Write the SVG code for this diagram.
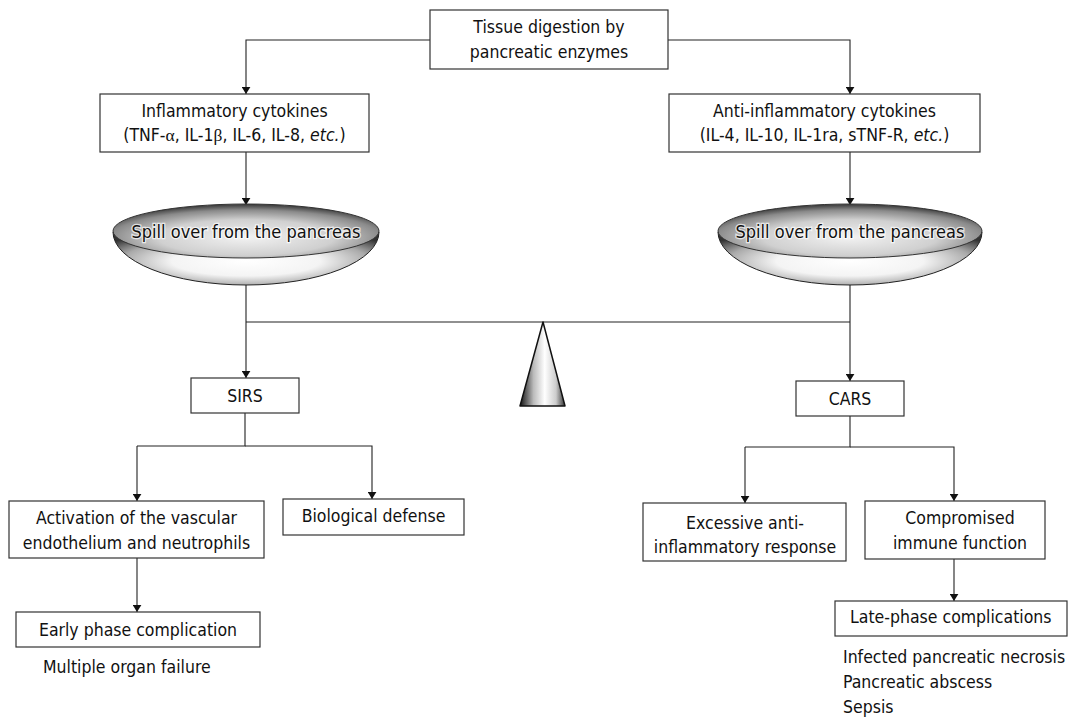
<svg xmlns="http://www.w3.org/2000/svg" width="1068" height="717" viewBox="0 0 1068 717">
<defs>
<style>
.box{fill:#fff;stroke:#333;stroke-width:1.2}
.t{font-family:"DejaVu Sans Condensed","DejaVu Sans",sans-serif;font-stretch:condensed;font-size:17.5px;fill:#111}
.m{text-anchor:middle}
.g{font-family:"Liberation Serif","DejaVu Serif",serif;font-stretch:normal}
.it{font-style:italic}
.ln{fill:none;stroke:#222;stroke-width:1.1}
.arr{marker-end:url(#ah)}
.spill{font-family:"DejaVu Sans Condensed","DejaVu Sans",sans-serif;font-stretch:condensed;font-size:18px;fill:#111;text-anchor:middle;stroke:#fff;stroke-width:2.5;paint-order:stroke;stroke-opacity:0.7}
</style>
<marker id="ah" viewBox="0 0 8 10" refX="8" refY="5" markerWidth="7" markerHeight="9" orient="auto" markerUnits="userSpaceOnUse">
<path d="M0,0 L8,5 L0,10 z" fill="#111"/>
</marker>
<radialGradient id="rim" cx="0.5" cy="0.62" r="0.6">
<stop offset="0" stop-color="#f2f2f2"/>
<stop offset="0.55" stop-color="#d0d0d0"/>
<stop offset="0.85" stop-color="#8a8a8a"/>
<stop offset="1" stop-color="#444"/>
</radialGradient>
<radialGradient id="body" cx="0.5" cy="0.55" r="0.62">
<stop offset="0" stop-color="#ffffff"/>
<stop offset="0.45" stop-color="#f4f4f4"/>
<stop offset="0.75" stop-color="#aaaaaa"/>
<stop offset="1" stop-color="#333"/>
</radialGradient>
<linearGradient id="cone" x1="0" y1="0" x2="1" y2="0">
<stop offset="0" stop-color="#111"/>
<stop offset="0.3" stop-color="#bbb"/>
<stop offset="0.55" stop-color="#fff"/>
<stop offset="0.8" stop-color="#ccc"/>
<stop offset="1" stop-color="#333"/>
</linearGradient>
</defs>
<rect width="1068" height="717" fill="#fff"/>

<g id="connectors">
<path class="ln arr" d="M430,40 H246 V94"/>
<path class="ln arr" d="M668,40 H850 V94"/>
<path class="ln arr" d="M246,152 V205"/>
<path class="ln arr" d="M850,152 V205"/>
<path class="ln" d="M246,322 H850"/>
<path class="ln arr" d="M246,285 V378"/>
<path class="ln arr" d="M850,285 V381"/>
<path class="ln" d="M245,413 V446 H137"/>
<path class="ln arr" d="M137,446 V501"/>
<path class="ln arr" d="M245,446 H372 V499"/>
<path class="ln arr" d="M137,558 V612"/>
<path class="ln" d="M850,416 V447 H745"/>
<path class="ln arr" d="M745,447 V503"/>
<path class="ln arr" d="M850,447 H954 V501"/>
<path class="ln arr" d="M954,559 V601"/>
</g>

<g id="n-tissue">
<rect class="box" x="430" y="10" width="238" height="59"/>
<text class="t m" x="549" y="33">Tissue digestion by</text>
<text class="t m" x="549" y="58">pancreatic enzymes</text>
</g>

<g id="n-inflam">
<rect class="box" x="100" y="94" width="269" height="58"/>
<text class="t m" x="234.5" y="117">Inflammatory cytokines</text>
<text class="t m" x="234.5" y="141">(TNF-<tspan class="g">α</tspan>, IL-1<tspan class="g">β</tspan>, IL-6, IL-8, <tspan class="it">etc.</tspan>)</text>
</g>

<g id="n-anti">
<rect class="box" x="669" y="94" width="311" height="58"/>
<text class="t m" x="824.5" y="117">Anti-inflammatory cytokines</text>
<text class="t m" x="824.5" y="141">(IL-4, IL-10, IL-1ra, sTNF-R, <tspan class="it">etc.</tspan>)</text>
</g>

<g id="n-spill-left">
<path d="M113,232 A133,53 0 0 0 379,232 Z" fill="url(#body)" stroke="#222" stroke-width="1"/>
<ellipse cx="246" cy="231" rx="133" ry="27" fill="url(#rim)" stroke="#333" stroke-width="1"/>
<text class="spill" x="246" y="238">Spill over from the pancreas</text>
</g>

<g id="n-spill-right">
<path d="M718,232 A132,53 0 0 0 982,232 Z" fill="url(#body)" stroke="#222" stroke-width="1"/>
<ellipse cx="850" cy="231" rx="132" ry="27" fill="url(#rim)" stroke="#333" stroke-width="1"/>
<text class="spill" x="850" y="238">Spill over from the pancreas</text>
</g>

<g id="n-fulcrum">
<path d="M543,322 L565,406 L520,406 Z" fill="url(#cone)" stroke="#111" stroke-width="1.5" stroke-linejoin="round"/>
</g>

<g id="n-sirs">
<rect class="box" x="191" y="378" width="108" height="35"/>
<text class="t m" x="245" y="402">SIRS</text>
</g>

<g id="n-cars">
<rect class="box" x="796" y="381" width="108" height="35"/>
<text class="t m" x="850" y="405">CARS</text>
</g>

<g id="n-activation">
<rect class="box" x="9" y="501" width="255" height="57"/>
<text class="t m" x="136.5" y="524">Activation of the vascular</text>
<text class="t m" x="136.5" y="549">endothelium and neutrophils</text>
</g>

<g id="n-bio">
<rect class="box" x="283" y="499" width="181" height="36"/>
<text class="t m" x="373.5" y="522">Biological defense</text>
</g>

<g id="n-early">
<rect class="box" x="16" y="612" width="244" height="35"/>
<text class="t m" x="138" y="636">Early phase complication</text>
<text class="t" x="43" y="673">Multiple organ failure</text>
</g>

<g id="n-excessive">
<rect class="box" x="643" y="503" width="203" height="58"/>
<text class="t m" x="745" y="529">Excessive anti-</text>
<text class="t m" x="745" y="553">inflammatory response</text>
</g>

<g id="n-compromised">
<rect class="box" x="865" y="501" width="180" height="58"/>
<text class="t m" x="960" y="524">Compromised</text>
<text class="t m" x="960" y="549">immune function</text>
</g>

<g id="n-late">
<rect class="box" x="835" y="601" width="232" height="35"/>
<text class="t" x="850" y="623">Late-phase complications</text>
<text class="t" x="843" y="663">Infected pancreatic necrosis</text>
<text class="t" x="843" y="688">Pancreatic abscess</text>
<text class="t" x="843" y="713">Sepsis</text>
</g>
</svg>
